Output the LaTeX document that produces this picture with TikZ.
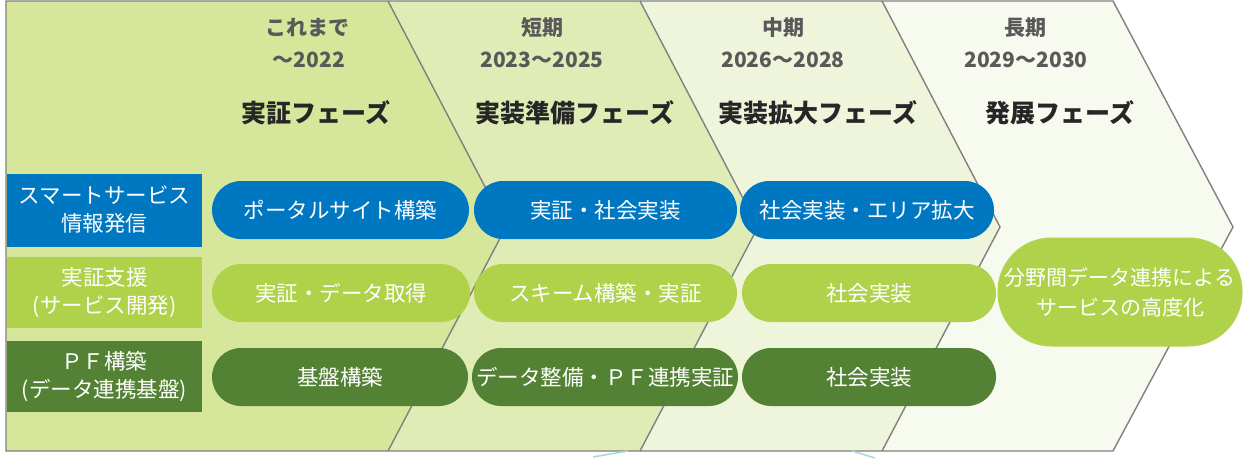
\documentclass[tikz,border=0pt]{standalone}
\usepackage{fontspec}
\setmainfont{Noto Sans CJK JP}
\definecolor{phA}{HTML}{D6E69B}
\definecolor{phB}{HTML}{E0ECB6}
\definecolor{phC}{HTML}{EFF5DA}
\definecolor{phD}{HTML}{F7FAEE}
\definecolor{edge}{HTML}{808080}
\definecolor{cblue}{HTML}{0078C1}
\definecolor{clight}{HTML}{B0D14A}
\definecolor{cdark}{HTML}{548235}
\definecolor{period}{HTML}{595959}
\definecolor{phname}{HTML}{262626}
\definecolor{frag}{HTML}{A6D8E2}
\tikzset{
  periodtxt/.style={text=period, font=\fontsize{21}{28}\selectfont\bfseries, align=center},
  phasetxt/.style={text=phname, font=\fontsize{25}{28}\selectfont\bfseries},
  catbox/.style={text=white, font=\fontsize{21.5}{28}\selectfont, align=center, minimum width=195pt, inner sep=0pt},
  pill/.style={text=white, font=\fontsize{21.5}{28}\selectfont, align=center, minimum height=58pt, rounded corners=29pt, inner sep=0pt},
  chev/.style={draw=edge, line width=1.4pt, line join=miter},
}
\begin{document}
\begin{tikzpicture}[x=1pt,y=-1pt]
\useasboundingbox (0,0) rectangle (1255,458);
\fill[white] (0,0) rectangle (1255,458);
% chevrons from back to front
\fill[phD] (6,1)--(1113,1)--(1233,227)--(1113,451)--(6,451)--cycle;
\fill[phC] (6,1)--(882,1)--(1000,227)--(882,451)--(6,451)--cycle;
\fill[phB] (6,1)--(640,1)--(758,227)--(640,451)--(6,451)--cycle;
\fill[phA] (6,1)--(388,1)--(506,227)--(388,451)--(6,451)--cycle;
\draw[chev] (388,1)--(506,227)--(388,451);
\draw[chev] (640,1)--(758,227)--(640,451);
\draw[chev] (882,1)--(1000,227)--(882,451);
\draw[chev] (6,1)--(1113,1)--(1233,227)--(1113,451)--(6,451)--cycle;
% fragments below the frame
\draw[frag, line width=1.5pt] (593,457)--(628,451);
\draw[frag, line width=1.5pt] (852,451)--(875,458);
% headers
\node[periodtxt] (h1a) at (307,28) {これまで};
\node[periodtxt] (h1b) at (309,60) {～2022};
\node[phasetxt] (h1c) at (316,113) {実証フェーズ};
\node[periodtxt] (h2a) at (542,28) {短期};
\node[periodtxt] (h2b) at (542,60) {2023～2025};
\node[phasetxt] (h2c) at (575,113) {実装準備フェーズ};
\node[periodtxt] (h3a) at (783,28) {中期};
\node[periodtxt] (h3b) at (783,60) {2026～2028};
\node[phasetxt] (h3c) at (818,113) {実装拡大フェーズ};
\node[periodtxt] (h4a) at (1025,28) {長期};
\node[periodtxt] (h4b) at (1026,60) {2029～2030};
\node[phasetxt] (h4c) at (1060,113) {発展フェーズ};
% category boxes
\node[catbox, fill=cblue, minimum height=73pt] (c1) at (104.5,210) {スマートサービス\\情報発信};
\node[catbox, fill=clight, minimum height=71pt] (c2) at (104.5,292.5) {実証支援\\(サービス開発)};
\node[catbox, fill=cdark, minimum height=71pt] (c3) at (104.5,376.5) {ＰＦ構築\\(データ連携基盤)};
% row 1
\node[pill, fill=cblue, minimum width=257pt] (p11) at (340.5,210) {ポータルサイト構築};
\node[pill, fill=cblue, minimum width=263pt] (p12) at (605.5,210) {実証・社会実装};
\node[pill, fill=cblue, minimum width=254pt] (p13) at (867,210) {社会実装・エリア拡大};
% row 2
\node[pill, fill=clight, minimum width=258pt] (p21) at (341,293) {実証・データ取得};
\node[pill, fill=clight, minimum width=263pt] (p22) at (605.5,293) {スキーム構築・実証};
\node[pill, fill=clight, minimum width=254pt] (p23) at (869,293) {社会実装};
% row 3
\node[pill, fill=cdark, minimum width=256pt] (p31) at (340,377) {基盤構築};
\node[pill, fill=cdark, minimum width=266pt] (p32) at (605,377) {データ整備・ＰＦ連携実証};
\node[pill, fill=cdark, minimum width=254pt] (p33) at (869,377) {社会実装};
% long-term
\node[pill, fill=clight, minimum width=245pt, minimum height=109pt, rounded corners=54pt, font=\fontsize{21}{30}\selectfont] (p4) at (1120,292) {分野間データ連携による\\サービスの高度化};
\end{tikzpicture}
\end{document}
